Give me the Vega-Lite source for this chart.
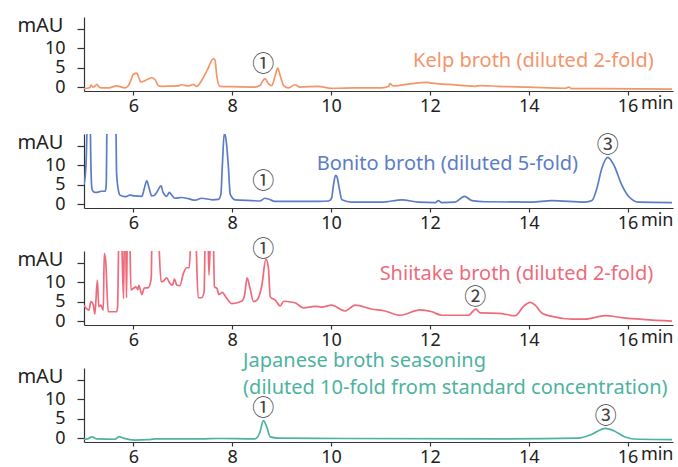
{
  "$schema": "https://vega.github.io/schema/vega-lite/v6.json",
  "padding": {"left": 16, "top": 15, "right": 5, "bottom": 0},
  "spacing": 43,
  "bounds": "flush",
  "datasets": {
    "kelp": [
      {"t":5.0,"v":-0.4},{"t":5.12,"v":-0.1},{"t":5.14,"v":0.5},{"t":5.18,"v":0.0},{"t":5.21,"v":0.1},{"t":5.26,"v":0.7},{"t":5.3,"v":0.1},{"t":5.36,"v":-0.2},{"t":5.5,"v":-0.2},{"t":5.66,"v":0.3},{"t":5.83,"v":-0.2},{"t":5.9,"v":0.4},{"t":5.94,"v":1.5},{"t":6.0,"v":3.3},{"t":6.07,"v":3.6},{"t":6.11,"v":2.4},{"t":6.15,"v":1.3},{"t":6.27,"v":1.9},{"t":6.37,"v":2.4},{"t":6.44,"v":1.9},{"t":6.5,"v":0.4},{"t":6.57,"v":0.2},{"t":6.91,"v":0.3},{"t":6.98,"v":0.6},{"t":7.11,"v":0.3},{"t":7.21,"v":0.7},{"t":7.28,"v":0.2},{"t":7.38,"v":1.7},{"t":7.5,"v":4.5},{"t":7.62,"v":7.3},{"t":7.65,"v":7.0},{"t":7.69,"v":2.6},{"t":7.75,"v":0.2},{"t":8.0,"v":0.1},{"t":8.46,"v":0.0},{"t":8.56,"v":0.4},{"t":8.66,"v":2.2},{"t":8.73,"v":0.9},{"t":8.8,"v":0.4},{"t":8.87,"v":3.0},{"t":8.92,"v":4.9},{"t":8.97,"v":3.0},{"t":9.04,"v":0.4},{"t":9.14,"v":-0.2},{"t":9.27,"v":0.6},{"t":9.37,"v":0.0},{"t":9.74,"v":0.2},{"t":10.01,"v":-0.3},{"t":10.5,"v":-0.2},{"t":11.03,"v":-0.2},{"t":11.17,"v":0.2},{"t":11.19,"v":0.9},{"t":11.26,"v":0.3},{"t":11.63,"v":0.9},{"t":11.94,"v":1.2},{"t":12.04,"v":1.0},{"t":12.38,"v":0.7},{"t":12.92,"v":0.2},{"t":13.02,"v":0.4},{"t":13.39,"v":0.2},{"t":14.0,"v":0.0},{"t":14.74,"v":-0.3},{"t":14.81,"v":0.0},{"t":14.87,"v":-0.4},{"t":15.5,"v":-0.4},{"t":16.9,"v":-0.5}
    ],
    "bonito": [
      {"t":5.0,"v":5.0},{"t":5.04,"v":10},{"t":5.08,"v":25},{"t":5.12,"v":25},{"t":5.14,"v":10},{"t":5.16,"v":4.0},{"t":5.19,"v":3.2},{"t":5.25,"v":3.0},{"t":5.35,"v":3.3},{"t":5.43,"v":3.3},{"t":5.45,"v":5},{"t":5.47,"v":25},{"t":5.64,"v":25},{"t":5.66,"v":8},{"t":5.69,"v":4.0},{"t":5.73,"v":2.3},{"t":5.83,"v":1.9},{"t":5.93,"v":2.3},{"t":6.03,"v":2.1},{"t":6.17,"v":2.0},{"t":6.22,"v":4.0},{"t":6.27,"v":6.0},{"t":6.32,"v":4.0},{"t":6.37,"v":2.1},{"t":6.42,"v":2.2},{"t":6.47,"v":3.0},{"t":6.56,"v":4.7},{"t":6.6,"v":3.0},{"t":6.63,"v":2.4},{"t":6.67,"v":2.0},{"t":6.73,"v":3.0},{"t":6.77,"v":2.4},{"t":6.84,"v":1.5},{"t":6.98,"v":1.7},{"t":7.11,"v":1.4},{"t":7.25,"v":1.0},{"t":7.38,"v":1.5},{"t":7.6,"v":1.1},{"t":7.72,"v":1.2},{"t":7.77,"v":2.5},{"t":7.8,"v":10},{"t":7.84,"v":18.3},{"t":7.88,"v":16},{"t":7.92,"v":10},{"t":7.96,"v":2.5},{"t":8.06,"v":1.1},{"t":8.4,"v":0.9},{"t":8.56,"v":0.8},{"t":8.66,"v":1.5},{"t":8.73,"v":1.3},{"t":8.87,"v":0.7},{"t":9.3,"v":0.7},{"t":9.74,"v":0.7},{"t":9.95,"v":0.8},{"t":10.01,"v":1.5},{"t":10.05,"v":5.0},{"t":10.09,"v":7.4},{"t":10.12,"v":7.0},{"t":10.16,"v":4.5},{"t":10.22,"v":1.1},{"t":10.42,"v":0.5},{"t":11.03,"v":0.5},{"t":11.43,"v":1.1},{"t":11.77,"v":0.5},{"t":12.11,"v":0.4},{"t":12.17,"v":0.9},{"t":12.24,"v":0.4},{"t":12.51,"v":0.5},{"t":12.7,"v":2.0},{"t":12.85,"v":0.9},{"t":13.12,"v":0.6},{"t":14.06,"v":0.5},{"t":14.47,"v":0.9},{"t":15.14,"v":0.5},{"t":15.28,"v":0.9},{"t":15.38,"v":4.1},{"t":15.48,"v":9.2},{"t":15.6,"v":12.0},{"t":15.72,"v":10.1},{"t":15.88,"v":5.0},{"t":16.02,"v":2.0},{"t":16.22,"v":0.5},{"t":16.9,"v":0.4}
    ],
    "shiitake": [
      {"t":5.0,"v":4.1},{"t":5.05,"v":3.2},{"t":5.1,"v":2.8},{"t":5.14,"v":5.0},{"t":5.19,"v":4.1},{"t":5.22,"v":1.8},{"t":5.27,"v":10.5},{"t":5.3,"v":3.7},{"t":5.34,"v":4.1},{"t":5.39,"v":2.8},{"t":5.41,"v":17.4},{"t":5.44,"v":15.2},{"t":5.49,"v":2.4},{"t":5.66,"v":2.4},{"t":5.68,"v":3.7},{"t":5.71,"v":25},{"t":5.75,"v":25},{"t":5.8,"v":5.8},{"t":5.82,"v":25},{"t":5.84,"v":25},{"t":5.86,"v":6.0},{"t":5.88,"v":25},{"t":5.92,"v":25},{"t":5.95,"v":8.0},{"t":6.0,"v":8.4},{"t":6.05,"v":8.8},{"t":6.09,"v":8.1},{"t":6.11,"v":9.2},{"t":6.17,"v":6.8},{"t":6.22,"v":8.5},{"t":6.3,"v":8.6},{"t":6.36,"v":10.9},{"t":6.38,"v":25},{"t":6.49,"v":25},{"t":6.56,"v":10.1},{"t":6.61,"v":10.3},{"t":6.67,"v":11.1},{"t":6.74,"v":9.7},{"t":6.79,"v":9.2},{"t":6.83,"v":10.8},{"t":6.88,"v":9.2},{"t":6.94,"v":9.1},{"t":7.01,"v":12.2},{"t":7.08,"v":13.7},{"t":7.13,"v":13.7},{"t":7.18,"v":25},{"t":7.25,"v":25},{"t":7.31,"v":6.0},{"t":7.38,"v":6.0},{"t":7.43,"v":7.5},{"t":7.46,"v":25},{"t":7.5,"v":25},{"t":7.53,"v":11.8},{"t":7.57,"v":25},{"t":7.61,"v":25},{"t":7.64,"v":8.8},{"t":7.69,"v":8.4},{"t":7.73,"v":6.8},{"t":7.8,"v":7.4},{"t":7.87,"v":6.2},{"t":7.99,"v":4.5},{"t":8.19,"v":5.1},{"t":8.25,"v":6.7},{"t":8.3,"v":11.1},{"t":8.36,"v":8.4},{"t":8.43,"v":5.0},{"t":8.5,"v":5.4},{"t":8.6,"v":9.2},{"t":8.68,"v":15.9},{"t":8.73,"v":13.9},{"t":8.77,"v":6.2},{"t":8.87,"v":5.4},{"t":8.97,"v":3.9},{"t":9.04,"v":5.1},{"t":9.27,"v":4.7},{"t":9.44,"v":3.4},{"t":9.68,"v":3.8},{"t":9.81,"v":3.6},{"t":10.01,"v":4.1},{"t":10.28,"v":2.6},{"t":10.49,"v":4.1},{"t":10.82,"v":3.1},{"t":11.09,"v":2.6},{"t":11.4,"v":1.5},{"t":11.8,"v":2.9},{"t":12.04,"v":2.4},{"t":12.24,"v":1.5},{"t":12.78,"v":1.5},{"t":12.93,"v":3.1},{"t":13.02,"v":2.1},{"t":13.39,"v":2.0},{"t":13.73,"v":1.4},{"t":13.89,"v":3.7},{"t":14.03,"v":4.8},{"t":14.13,"v":4.1},{"t":14.27,"v":2.0},{"t":14.47,"v":1.2},{"t":14.87,"v":0.5},{"t":15.14,"v":0.5},{"t":15.55,"v":1.4},{"t":15.88,"v":0.9},{"t":16.9,"v":0.0}
    ],
    "seasoning": [
      {"t":5.0,"v":-0.3},{"t":5.07,"v":-0.2},{"t":5.16,"v":0.3},{"t":5.26,"v":-0.2},{"t":5.63,"v":-0.3},{"t":5.71,"v":0.4},{"t":5.8,"v":0.0},{"t":6.03,"v":-0.5},{"t":6.3,"v":-0.4},{"t":6.44,"v":-0.2},{"t":7.38,"v":-0.2},{"t":7.72,"v":-0.1},{"t":8.46,"v":-0.2},{"t":8.56,"v":1.5},{"t":8.63,"v":4.5},{"t":8.7,"v":2.8},{"t":8.77,"v":0.3},{"t":8.93,"v":0.0},{"t":10.22,"v":-0.1},{"t":13.39,"v":-0.2},{"t":15.01,"v":0.0},{"t":15.28,"v":1.0},{"t":15.55,"v":2.5},{"t":15.72,"v":1.9},{"t":15.95,"v":0.3},{"t":16.22,"v":-0.3},{"t":16.9,"v":-0.4}
    ],
    "labels": [
      {"panel":"kelp","t":16.53,"v":5.2,"text":"Kelp broth (diluted 2-fold)"},
      {"panel":"bonito","t":15.0,"v":8.8,"text":"Bonito broth (diluted 5-fold)"},
      {"panel":"shiitake","t":16.52,"v":10.5,"text":"Shiitake broth (diluted 2-fold)"},
      {"panel":"seasoning","t":8.22,"v":18.2,"text":"Japanese broth seasoning"},
      {"panel":"seasoning","t":8.22,"v":11.3,"text":"(diluted 10-fold from standard concentration)"}
    ],
    "markers": [
      {"panel":"kelp","t":8.63,"v":6.0,"text":"①"},
      {"panel":"bonito","t":8.63,"v":6.0,"text":"①"},
      {"panel":"bonito","t":15.6,"v":15.2,"text":"③"},
      {"panel":"shiitake","t":8.63,"v":18.6,"text":"①"},
      {"panel":"shiitake","t":12.92,"v":6.2,"text":"②"},
      {"panel":"seasoning","t":8.63,"v":7.7,"text":"①"},
      {"panel":"seasoning","t":15.56,"v":5.7,"text":"③"}
    ]
  },
  "vconcat": [
    {
      "width": 589, "height": 74,
      "encoding": {
        "x": {"field":"t","type":"quantitative","title":"min","scale":{"domain":[5,16.92],"nice":false,"zero":false},"axis":{"values":[6,8,10,12,14,16]}},
        "y": {"field":"v","type":"quantitative","title":"mAU","scale":{"domain":[-1,18],"nice":false,"zero":false},"axis":{"values":[0,5,10,15],"labelExpr":"datum.value === 15 ? '' : datum.label"}}
      },
      "layer": [
        {"data":{"name":"kelp"},"mark":{"type":"line","clip":true,"color":"#F4956B","strokeWidth":1.7,"interpolate":"monotone"}},
        {"data":{"name":"labels"},"transform":[{"filter":"datum.panel === 'kelp'"}],"mark":{"type":"text","align":"right","baseline":"alphabetic","font":"Noto Sans","fontSize":20,"color":"#F4956B"},"encoding":{"text":{"field":"text"}}},
        {"data":{"name":"markers"},"transform":[{"filter":"datum.panel === 'kelp'"}],"mark":{"type":"text","align":"center","baseline":"middle","font":"Noto Sans CJK JP","fontSize":22,"color":"#444"},"encoding":{"text":{"field":"text"}}}
      ]
    },
    {
      "width": 589, "height": 74,
      "encoding": {
        "x": {"field":"t","type":"quantitative","title":"min","scale":{"domain":[5,16.92],"nice":false,"zero":false},"axis":{"values":[6,8,10,12,14,16]}},
        "y": {"field":"v","type":"quantitative","title":"mAU","scale":{"domain":[-1,18],"nice":false,"zero":false},"axis":{"values":[0,5,10,15],"labelExpr":"datum.value === 15 ? '' : datum.label"}}
      },
      "layer": [
        {"data":{"name":"bonito"},"mark":{"type":"line","clip":true,"color":"#5B7DC6","strokeWidth":1.7,"interpolate":"monotone"}},
        {"data":{"name":"labels"},"transform":[{"filter":"datum.panel === 'bonito'"}],"mark":{"type":"text","align":"right","baseline":"alphabetic","font":"Noto Sans","fontSize":20,"color":"#5B7DC6"},"encoding":{"text":{"field":"text"}}},
        {"data":{"name":"markers"},"transform":[{"filter":"datum.panel === 'bonito'"}],"mark":{"type":"text","align":"center","baseline":"middle","font":"Noto Sans CJK JP","fontSize":22,"color":"#444"},"encoding":{"text":{"field":"text"}}}
      ]
    },
    {
      "width": 589, "height": 74,
      "encoding": {
        "x": {"field":"t","type":"quantitative","title":"min","scale":{"domain":[5,16.92],"nice":false,"zero":false},"axis":{"values":[6,8,10,12,14,16]}},
        "y": {"field":"v","type":"quantitative","title":"mAU","scale":{"domain":[-1,18],"nice":false,"zero":false},"axis":{"values":[0,5,10,15],"labelExpr":"datum.value === 15 ? '' : datum.label"}}
      },
      "layer": [
        {"data":{"name":"shiitake"},"mark":{"type":"line","clip":true,"color":"#EE6B7C","strokeWidth":1.7,"interpolate":"monotone"}},
        {"data":{"name":"labels"},"transform":[{"filter":"datum.panel === 'shiitake'"}],"mark":{"type":"text","align":"right","baseline":"alphabetic","font":"Noto Sans","fontSize":20,"color":"#EE6B7C"},"encoding":{"text":{"field":"text"}}},
        {"data":{"name":"markers"},"transform":[{"filter":"datum.panel === 'shiitake'"}],"mark":{"type":"text","align":"center","baseline":"middle","font":"Noto Sans CJK JP","fontSize":22,"color":"#444"},"encoding":{"text":{"field":"text"}}}
      ]
    },
    {
      "width": 589, "height": 74,
      "encoding": {
        "x": {"field":"t","type":"quantitative","title":"min","scale":{"domain":[5,16.92],"nice":false,"zero":false},"axis":{"values":[6,8,10,12,14,16]}},
        "y": {"field":"v","type":"quantitative","title":"mAU","scale":{"domain":[-1,18],"nice":false,"zero":false},"axis":{"values":[0,5,10,15],"labelExpr":"datum.value === 15 ? '' : datum.label"}}
      },
      "layer": [
        {"data":{"name":"seasoning"},"mark":{"type":"line","clip":true,"color":"#4DB39E","strokeWidth":1.7,"interpolate":"monotone"}},
        {"data":{"name":"labels"},"transform":[{"filter":"datum.panel === 'seasoning'"}],"mark":{"type":"text","align":"left","baseline":"alphabetic","font":"Noto Sans","fontSize":20,"color":"#4DB39E"},"encoding":{"text":{"field":"text"}}},
        {"data":{"name":"markers"},"transform":[{"filter":"datum.panel === 'seasoning'"}],"mark":{"type":"text","align":"center","baseline":"middle","font":"Noto Sans CJK JP","fontSize":22,"color":"#444"},"encoding":{"text":{"field":"text"}}}
      ]
    }
  ],
  "config": {
    "view": {"stroke": null},
    "axis": {"grid": false, "domainColor": "#333", "tickColor": "#333", "domainWidth": 1.2, "tickWidth": 1.2, "labelColor": "#222", "labelFont": "Noto Sans", "labelFontSize": 18, "titleFont": "Noto Sans", "titleFontSize": 18, "titleFontWeight": "normal", "titleColor": "#222"},
    "axisX": {"tickSize": 4, "labelPadding": 2, "labelFlush": false, "titleAlign": "right", "titleAnchor": "end", "titleBaseline": "alphabetic", "titleX": 589, "titleY": 17},
    "axisY": {"tickSize": 7, "labelPadding": 12, "labelBaseline": "middle", "titleAngle": 0, "titleAlign": "right", "titleBaseline": "alphabetic", "titleX": -21, "titleY": 14, "titleFontSize": 20}
  }
}
